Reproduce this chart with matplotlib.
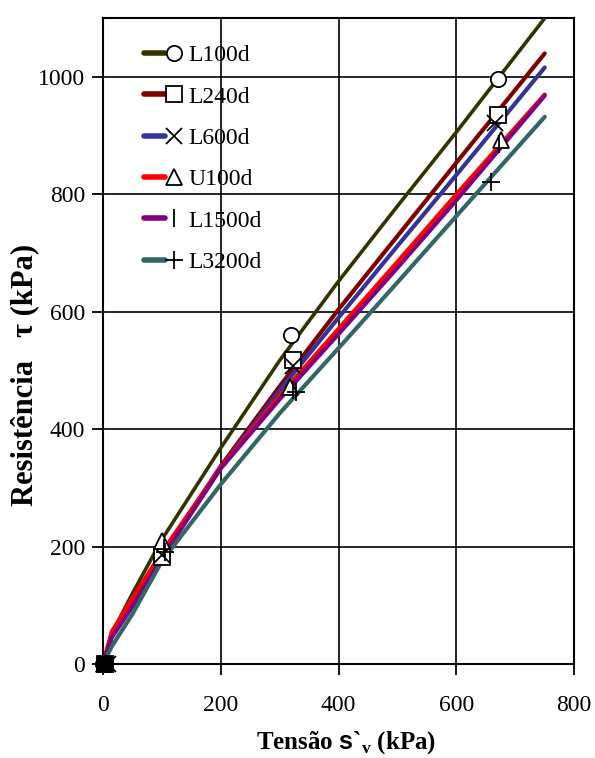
import matplotlib
matplotlib.use("Agg")
import matplotlib.pyplot as plt
from matplotlib.lines import Line2D
from matplotlib.legend_handler import HandlerBase

plt.rcParams["font.family"] = ["Liberation Serif", "DejaVu Serif"]
plt.rcParams["mathtext.fontset"] = "custom"
plt.rcParams["mathtext.rm"] = "Liberation Serif"
plt.rcParams["mathtext.bf"] = "Liberation Serif:bold"
plt.rcParams["mathtext.sf"] = "Liberation Sans:bold"

# Fitted shear-strength curves (normal stress in kPa -> strength in kPa)
curve_sigma = [0, 15, 50, 100, 200, 300, 400, 500, 600, 750]
curve_L100d = [0, 52, 120, 212, 368, 517, 652, 780, 906, 1100]
curve_L240d = [0, 50, 105, 185, 337, 473, 604, 729, 854, 1040]
curve_L600d = [0, 48, 103, 183, 335, 466, 590, 712, 833, 1016]
curve_U100d = [0, 55, 112, 190, 335, 457, 571, 685, 800, 970]
curve_L1500d = [0, 45, 98, 180, 333, 451, 562, 675, 790, 968]
curve_L3200d = [0, 30, 85, 175, 306, 427, 538, 650, 763, 932]

# Measured test points
pts_L100d_x = [0, 100, 320, 671]
pts_L100d_y = [0, 188, 560, 997]
pts_L240d_x = [4, 100, 322, 671]
pts_L240d_y = [0, 182, 518, 935]
pts_L600d_x = [8, 100, 323, 666]
pts_L600d_y = [0, 185, 508, 922]
pts_U100d_x = [2, 100, 318, 676]
pts_U100d_y = [0, 210, 472, 893]
pts_L1500d_x = [10, 103, 323, 672]
pts_L1500d_y = [0, 198, 467, 885]
pts_L3200d_x = [6, 105, 327, 659]
pts_L3200d_y = [0, 190, 463, 821]

labels = ["L100d", "L240d", "L600d", "U100d", "L1500d", "L3200d"]
colors = ["#333300", "#800000", "#333399", "#ff0000", "#800080", "#336666"]
markers = ["o", "s", "x", "^", "|", "+"]
msizes = [11, 12, 11, 12, 13, 13]
curves = [curve_L100d, curve_L240d, curve_L600d, curve_U100d, curve_L1500d, curve_L3200d]
pts = [(pts_L100d_x, pts_L100d_y), (pts_L240d_x, pts_L240d_y), (pts_L600d_x, pts_L600d_y),
       (pts_U100d_x, pts_U100d_y), (pts_L1500d_x, pts_L1500d_y), (pts_L3200d_x, pts_L3200d_y)]
widths = [2.6, 3.0, 3.0, 3.0, 3.0, 3.0]

fig = plt.figure(figsize=(5.95, 7.58), dpi=100)
ax = fig.add_axes([0.173, 0.124, 0.792, 0.852])

for c, col, lw in zip(curves, colors, widths):
    ax.plot(curve_sigma, c, color=col, lw=lw, solid_capstyle="round", zorder=3)

for (px, py), m, ms in zip(pts, markers, msizes):
    ax.plot(px[1:], py[1:], linestyle="none", marker=m, ms=ms, mfc="white",
            mec="black", mew=1.3, zorder=4)
    ax.plot(px[:1], py[:1], linestyle="none", marker=m, ms=ms, mfc="black",
            mec="black", mew=1.3, zorder=4, clip_on=False)


class LineThenMarker(HandlerBase):
    def create_artists(self, legend, orig_handle, xdescent, ydescent,
                       width, height, fontsize, trans):
        y = height / 2 - ydescent
        x0 = -xdescent
        ln = Line2D([x0, x0 + width * 0.55], [y, y], color=orig_handle.get_color(),
                    lw=4, solid_capstyle="round", transform=trans)
        mk = Line2D([x0 + width * 0.78], [y], linestyle="none",
                    marker=orig_handle.get_marker(), ms=orig_handle.get_markersize(),
                    mfc="white", mec="black", mew=1.3, transform=trans)
        return [ln, mk]


handles = [Line2D([], [], color=col, marker=m, ms=ms)
           for col, m, ms in zip(colors, markers, msizes)]
leg = ax.legend(handles, labels, handler_map={Line2D: LineThenMarker()},
                loc="upper left", bbox_to_anchor=(0.087, 0.959), frameon=False,
                fontsize=17, handlelength=1.65, handletextpad=0.25, labelspacing=0.84,
                borderaxespad=0, borderpad=0)
leg.set_zorder(6)

ax.set_xlim(0, 800)
ax.set_ylim(0, 1100)
ax.set_xticks([0, 200, 400, 600, 800])
ax.set_yticks([0, 200, 400, 600, 800, 1000])
ax.grid(True, color="black", lw=1.2)
ax.set_axisbelow(True)
for s in ax.spines.values():
    s.set_linewidth(1.5)
ax.tick_params(direction="out", length=8, width=1.3, labelsize=17)
ax.tick_params(axis="x", pad=14)
ax.tick_params(axis="y", pad=5)

# axis titles placed in axes coordinates
ax.text(0.516, -0.121, r"Tensão $\mathsf{s}$`$_\mathbf{v}$ (kPa)", transform=ax.transAxes,
        fontsize=18, fontweight="bold", ha="center", va="center")
ax.text(-0.166, 0.447, "Resistência   τ (kPa)", transform=ax.transAxes,
        fontsize=22, fontweight="bold", ha="center", va="center", rotation=90)

fig.savefig("out.png", dpi=100)
